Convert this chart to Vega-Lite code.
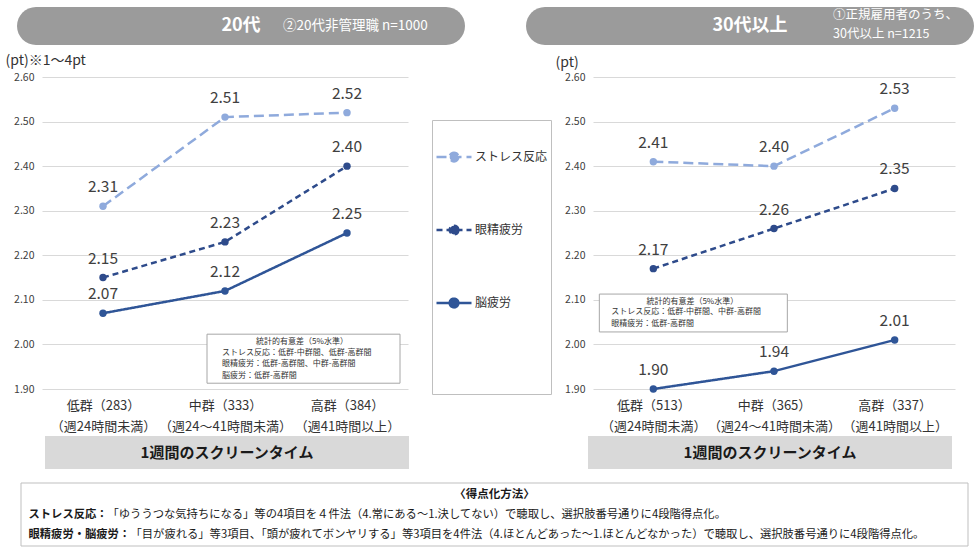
{
  "$schema": "https://vega.github.io/schema/vega-lite/v6.json",
  "padding": {"left": 5, "top": 7, "right": 0, "bottom": 0},
  "background": "white",
  "config": {
    "font": "Noto Sans CJK JP",
    "view": {"stroke": null},
    "axis": {"domain": false, "ticks": false}
  },
  "datasets": {
    "left": [
      {"group": "低群（283）", "series": "ストレス反応", "value": 2.31},
      {"group": "中群（333）", "series": "ストレス反応", "value": 2.51},
      {"group": "高群（384）", "series": "ストレス反応", "value": 2.52},
      {"group": "低群（283）", "series": "眼精疲労", "value": 2.15},
      {"group": "中群（333）", "series": "眼精疲労", "value": 2.23},
      {"group": "高群（384）", "series": "眼精疲労", "value": 2.40},
      {"group": "低群（283）", "series": "脳疲労", "value": 2.07},
      {"group": "中群（333）", "series": "脳疲労", "value": 2.12},
      {"group": "高群（384）", "series": "脳疲労", "value": 2.25}
    ],
    "right": [
      {"group": "低群（513）", "series": "ストレス反応", "value": 2.41},
      {"group": "中群（365）", "series": "ストレス反応", "value": 2.40},
      {"group": "高群（337）", "series": "ストレス反応", "value": 2.53},
      {"group": "低群（513）", "series": "眼精疲労", "value": 2.17},
      {"group": "中群（365）", "series": "眼精疲労", "value": 2.26},
      {"group": "高群（337）", "series": "眼精疲労", "value": 2.35},
      {"group": "低群（513）", "series": "脳疲労", "value": 1.90},
      {"group": "中群（365）", "series": "脳疲労", "value": 1.94},
      {"group": "高群（337）", "series": "脳疲労", "value": 2.01}
    ]
  },
  "spacing": 13,
  "vconcat": [
    {
      "spacing": 8,
      "vconcat": [
        {
          "spacing": 11,
          "hconcat": [
            {"data": {"values": [{}]}, "width": 1, "height": 1, "mark": {"type": "rect", "opacity": 0}},
            {
              "spacing": 61,
              "hconcat": [
                {
                  "width": 448, "height": 38,
                  "data": {"values": [{}]},
                  "layer": [
                    {"mark": {"type": "rect", "fill": "#9b9b9b", "cornerRadius": 19}},
                    {"mark": {"type": "text", "text": "20代", "fontSize": 18, "fontWeight": "bold", "color": "white"}},
                    {"mark": {"type": "text", "text": "②20代非管理職  n=1000", "fontSize": 13.5, "color": "white", "align": "left", "dx": 42}}
                  ]
                },
                {
                  "width": 448, "height": 38,
                  "data": {"values": [{}]},
                  "layer": [
                    {"mark": {"type": "rect", "fill": "#9b9b9b", "cornerRadius": 19}},
                    {"mark": {"type": "text", "text": "30代以上", "fontSize": 18, "fontWeight": "bold", "color": "white"}},
                    {"mark": {"type": "text", "text": ["①正規雇用者のうち、", "30代以上  n=1215"], "lineHeight": 19, "fontSize": 12.5, "color": "white", "align": "left", "baseline": "middle", "dx": 83, "dy": -11}}
                  ]
                }
              ]
            }
          ]
        },
        {
          "spacing": 3,
          "vconcat": [
            {
              "spacing": -1,
              "hconcat": [
                {"data": {"values": [{}]}, "width": 1, "height": 1, "mark": {"type": "rect", "opacity": 0}},
                {
                  "spacing": 185,
                  "bounds": "flush",
                  "resolve": {
                    "scale": {"color": "independent", "strokeDash": "independent", "fill": "independent"},
                    "legend": {"color": "independent", "strokeDash": "independent", "fill": "independent"}
                  },
                  "hconcat": [
                    {
                      "width": 366, "height": 312,
                      "data": {"name": "left"},
                      "encoding": {
                        "x": {
                          "field": "group", "type": "nominal",
                          "scale": {"type": "point", "padding": 0.5, "domain": ["低群（283）", "中群（333）", "高群（384）"]},
                          "axis": {
                            "title": null, "grid": false, "labelAngle": 0, "labelFontSize": 13, "labelColor": "#333333",
                            "labelPadding": 10, "labelLineHeight": 21,
                            "labelExpr": "[datum.label, indexof(datum.label, '低群') == 0 ? '（週24時間未満）' : indexof(datum.label, '中群') == 0 ? '（週24～41時間未満）' : '（週41時間以上）']"
                          }
                        },
                        "y": {
                          "field": "value", "type": "quantitative",
                          "scale": {"domain": [1.9, 2.6], "nice": false, "zero": false},
                          "axis": {
                            "values": [1.9, 2.0, 2.1, 2.2, 2.3, 2.4, 2.5, 2.6], "format": ".2f",
                            "grid": true, "gridColor": "#d9d9d9", "labelFontSize": 10.5, "labelColor": "#404040", "labelPadding": 8,
                            "title": "(pt)※1～4pt", "titleAngle": 0, "titleAlign": "left", "titleBaseline": "alphabetic",
                            "titleX": -37, "titleY": -13, "titleFontSize": 14, "titleFontWeight": "normal", "titleColor": "#333333"
                          }
                        }
                      },
                      "layer": [
                        {
                          "transform": [{"filter": "datum.group == '中群（333）' && datum.series == '脳疲労'"}],
                          "mark": {"type": "rect", "fill": "white", "stroke": "#a6a6a6", "strokeWidth": 1, "xOffset": -18, "x2Offset": 175},
                          "encoding": {"x2": {"field": "group"}, "y": {"datum": 2.023}, "y2": {"datum": 1.913}}
                        },
                        {
                          "transform": [{"filter": "datum.group == '中群（333）' && datum.series == '脳疲労'"}],
                          "mark": {"type": "text", "text": "統計的有意差（5%水準）", "fontSize": 8, "color": "#333333", "align": "center", "baseline": "middle", "dx": 77},
                          "encoding": {"y": {"datum": 2.005}}
                        },
                        {
                          "transform": [{"filter": "datum.group == '中群（333）' && datum.series == '脳疲労'"}],
                          "mark": {"type": "text", "text": ["ストレス反応：低群-中群間、低群-高群間", "眼精疲労：低群-高群間、中群-高群間", "脳疲労：低群-高群間"], "lineHeight": 11.5, "fontSize": 8, "color": "#333333", "align": "left", "baseline": "top", "dx": -3},
                          "encoding": {"y": {"datum": 1.99}}
                        },
                        {
                          "mark": {"type": "line", "strokeWidth": 2.5},
                          "encoding": {
                            "color": {
                              "field": "series", "type": "nominal",
                              "scale": {"domain": ["ストレス反応", "眼精疲労", "脳疲労"], "range": ["#8FAADC", "#2E4B8B", "#2F5597"]},
                              "legend": {
                                "orient": "none", "legendX": 390, "legendY": 43,
                                "title": " ", "titleOrient": "bottom", "titleFontSize": 40, "titlePadding": 14,
                                "padding": 3, "strokeColor": "#bfbfbf", "fillColor": "white",
                                "symbolType": "M-1,0H1M0.25,0A0.25,0.25,0,1,1,-0.25,0A0.25,0.25,0,1,1,0.25,0",
                                "symbolSize": 1225, "symbolStrokeWidth": 2.5,
                                "labelFontSize": 12, "labelColor": "#333333", "labelOffset": 2,
                                "clipHeight": 68, "rowPadding": 5
                              }
                            },
                            "strokeDash": {
                              "field": "series", "type": "nominal",
                              "scale": {"domain": ["ストレス反応", "眼精疲労", "脳疲労"], "range": [[10, 5], [6, 4], [1, 0]]}
                            }
                          }
                        },
                        {
                          "mark": {"type": "point", "filled": true, "size": 55, "opacity": 1},
                          "encoding": {
                            "fill": {
                              "field": "series", "type": "nominal",
                              "scale": {"domain": ["ストレス反応", "眼精疲労", "脳疲労"], "range": ["#8FAADC", "#2E4B8B", "#2F5597"]}
                            }
                          }
                        },
                        {
                          "mark": {"type": "text", "dy": -19, "fontSize": 15.5, "color": "#404040"},
                          "encoding": {"text": {"field": "value", "type": "quantitative", "format": ".2f"}}
                        }
                      ]
                    },
                    {
                      "width": 362, "height": 312,
                      "data": {"name": "right"},
                      "encoding": {
                        "x": {
                          "field": "group", "type": "nominal",
                          "scale": {"type": "point", "padding": 0.5, "domain": ["低群（513）", "中群（365）", "高群（337）"]},
                          "axis": {
                            "title": null, "grid": false, "labelAngle": 0, "labelFontSize": 13, "labelColor": "#333333",
                            "labelPadding": 10, "labelLineHeight": 21,
                            "labelExpr": "[datum.label, indexof(datum.label, '低群') == 0 ? '（週24時間未満）' : indexof(datum.label, '中群') == 0 ? '（週24～41時間未満）' : '（週41時間以上）']"
                          }
                        },
                        "y": {
                          "field": "value", "type": "quantitative",
                          "scale": {"domain": [1.9, 2.6], "nice": false, "zero": false},
                          "axis": {
                            "values": [1.9, 2.0, 2.1, 2.2, 2.3, 2.4, 2.5, 2.6], "format": ".2f",
                            "grid": true, "gridColor": "#d9d9d9", "labelFontSize": 10.5, "labelColor": "#404040", "labelPadding": 8,
                            "title": "(pt)", "titleAngle": 0, "titleAlign": "left", "titleBaseline": "alphabetic",
                            "titleX": -38, "titleY": -11, "titleFontSize": 14, "titleFontWeight": "normal", "titleColor": "#333333"
                          }
                        }
                      },
                      "layer": [
                        {
                          "transform": [{"filter": "datum.group == '低群（513）' && datum.series == '脳疲労'"}],
                          "mark": {"type": "rect", "fill": "white", "stroke": "#a6a6a6", "strokeWidth": 1, "xOffset": -54, "x2Offset": 134},
                          "encoding": {"x2": {"field": "group"}, "y": {"datum": 2.113}, "y2": {"datum": 2.028}}
                        },
                        {
                          "transform": [{"filter": "datum.group == '低群（513）' && datum.series == '脳疲労'"}],
                          "mark": {"type": "text", "text": "統計的有意差（5%水準）", "fontSize": 8, "color": "#333333", "align": "center", "baseline": "middle", "dx": 39},
                          "encoding": {"y": {"datum": 2.095}}
                        },
                        {
                          "transform": [{"filter": "datum.group == '低群（513）' && datum.series == '脳疲労'"}],
                          "mark": {"type": "text", "text": ["ストレス反応：低群-中群間、中群-高群間", "眼精疲労：低群-高群間"], "lineHeight": 11.5, "fontSize": 8, "color": "#333333", "align": "left", "baseline": "top", "dx": -42},
                          "encoding": {"y": {"datum": 2.081}}
                        },
                        {
                          "mark": {"type": "line", "strokeWidth": 2.5},
                          "encoding": {
                            "color": {
                              "field": "series", "type": "nominal", "legend": null,
                              "scale": {"domain": ["ストレス反応", "眼精疲労", "脳疲労"], "range": ["#8FAADC", "#2E4B8B", "#2F5597"]}
                            },
                            "strokeDash": {
                              "field": "series", "type": "nominal", "legend": null,
                              "scale": {"domain": ["ストレス反応", "眼精疲労", "脳疲労"], "range": [[10, 5], [6, 4], [1, 0]]}
                            }
                          }
                        },
                        {
                          "mark": {"type": "point", "filled": true, "size": 55, "opacity": 1},
                          "encoding": {
                            "fill": {
                              "field": "series", "type": "nominal", "legend": null,
                              "scale": {"domain": ["ストレス反応", "眼精疲労", "脳疲労"], "range": ["#8FAADC", "#2E4B8B", "#2F5597"]}
                            }
                          }
                        },
                        {
                          "mark": {"type": "text", "dy": -19, "fontSize": 15.5, "color": "#404040"},
                          "encoding": {"text": {"field": "value", "type": "quantitative", "format": ".2f"}}
                        }
                      ]
                    }
                  ]
                }
              ]
            },
            {
              "spacing": 39,
              "hconcat": [
                {"data": {"values": [{}]}, "width": 1, "height": 1, "mark": {"type": "rect", "opacity": 0}},
                {
                  "spacing": 179,
                  "hconcat": [
                    {
                      "width": 364, "height": 33,
                      "data": {"values": [{}]},
                      "layer": [
                        {"mark": {"type": "rect", "fill": "#d9d9d9"}},
                        {"mark": {"type": "text", "text": "1週間のスクリーンタイム", "fontSize": 15, "fontWeight": "bold", "color": "#1a1a1a"}}
                      ]
                    },
                    {
                      "width": 364, "height": 33,
                      "data": {"values": [{}]},
                      "layer": [
                        {"mark": {"type": "rect", "fill": "#d9d9d9"}},
                        {"mark": {"type": "text", "text": "1週間のスクリーンタイム", "fontSize": 15, "fontWeight": "bold", "color": "#1a1a1a"}}
                      ]
                    }
                  ]
                }
              ]
            }
          ]
        }
      ]
    },
    {
      "spacing": 14,
      "hconcat": [
        {"data": {"values": [{}]}, "width": 1, "height": 1, "mark": {"type": "rect", "opacity": 0}},
        {
          "width": 947, "height": 63,
          "data": {"values": [{}]},
          "layer": [
            {"mark": {"type": "rect", "fill": "white", "stroke": "#bfbfbf"}},
            {"mark": {"type": "text", "text": "〈得点化方法〉", "fontSize": 11.5, "fontWeight": "bold", "color": "#1a1a1a", "dy": -20}},
            {"mark": {"type": "text", "text": "ストレス反応：", "fontSize": 11.3, "fontWeight": "bold", "color": "#1a1a1a", "align": "left", "dx": -466}},
            {"mark": {"type": "text", "text": "「ゆううつな気持ちになる」等の4項目を４件法（4.常にある～1.決してない）で聴取し、選択肢番号通りに4段階得点化。", "fontSize": 11.3, "color": "#1a1a1a", "align": "left", "dx": -387}},
            {"mark": {"type": "text", "text": "眼精疲労・脳疲労：", "fontSize": 11.3, "fontWeight": "bold", "color": "#1a1a1a", "align": "left", "dx": -466, "dy": 20}},
            {"mark": {"type": "text", "text": "「目が疲れる」等3項目、「頭が疲れてボンヤリする」等3項目を4件法（4.ほとんどあった～1.ほとんどなかった）で聴取し、選択肢番号通りに4段階得点化。", "fontSize": 11.3, "color": "#1a1a1a", "align": "left", "dx": -364, "dy": 20}}
          ]
        }
      ]
    }
  ]
}
